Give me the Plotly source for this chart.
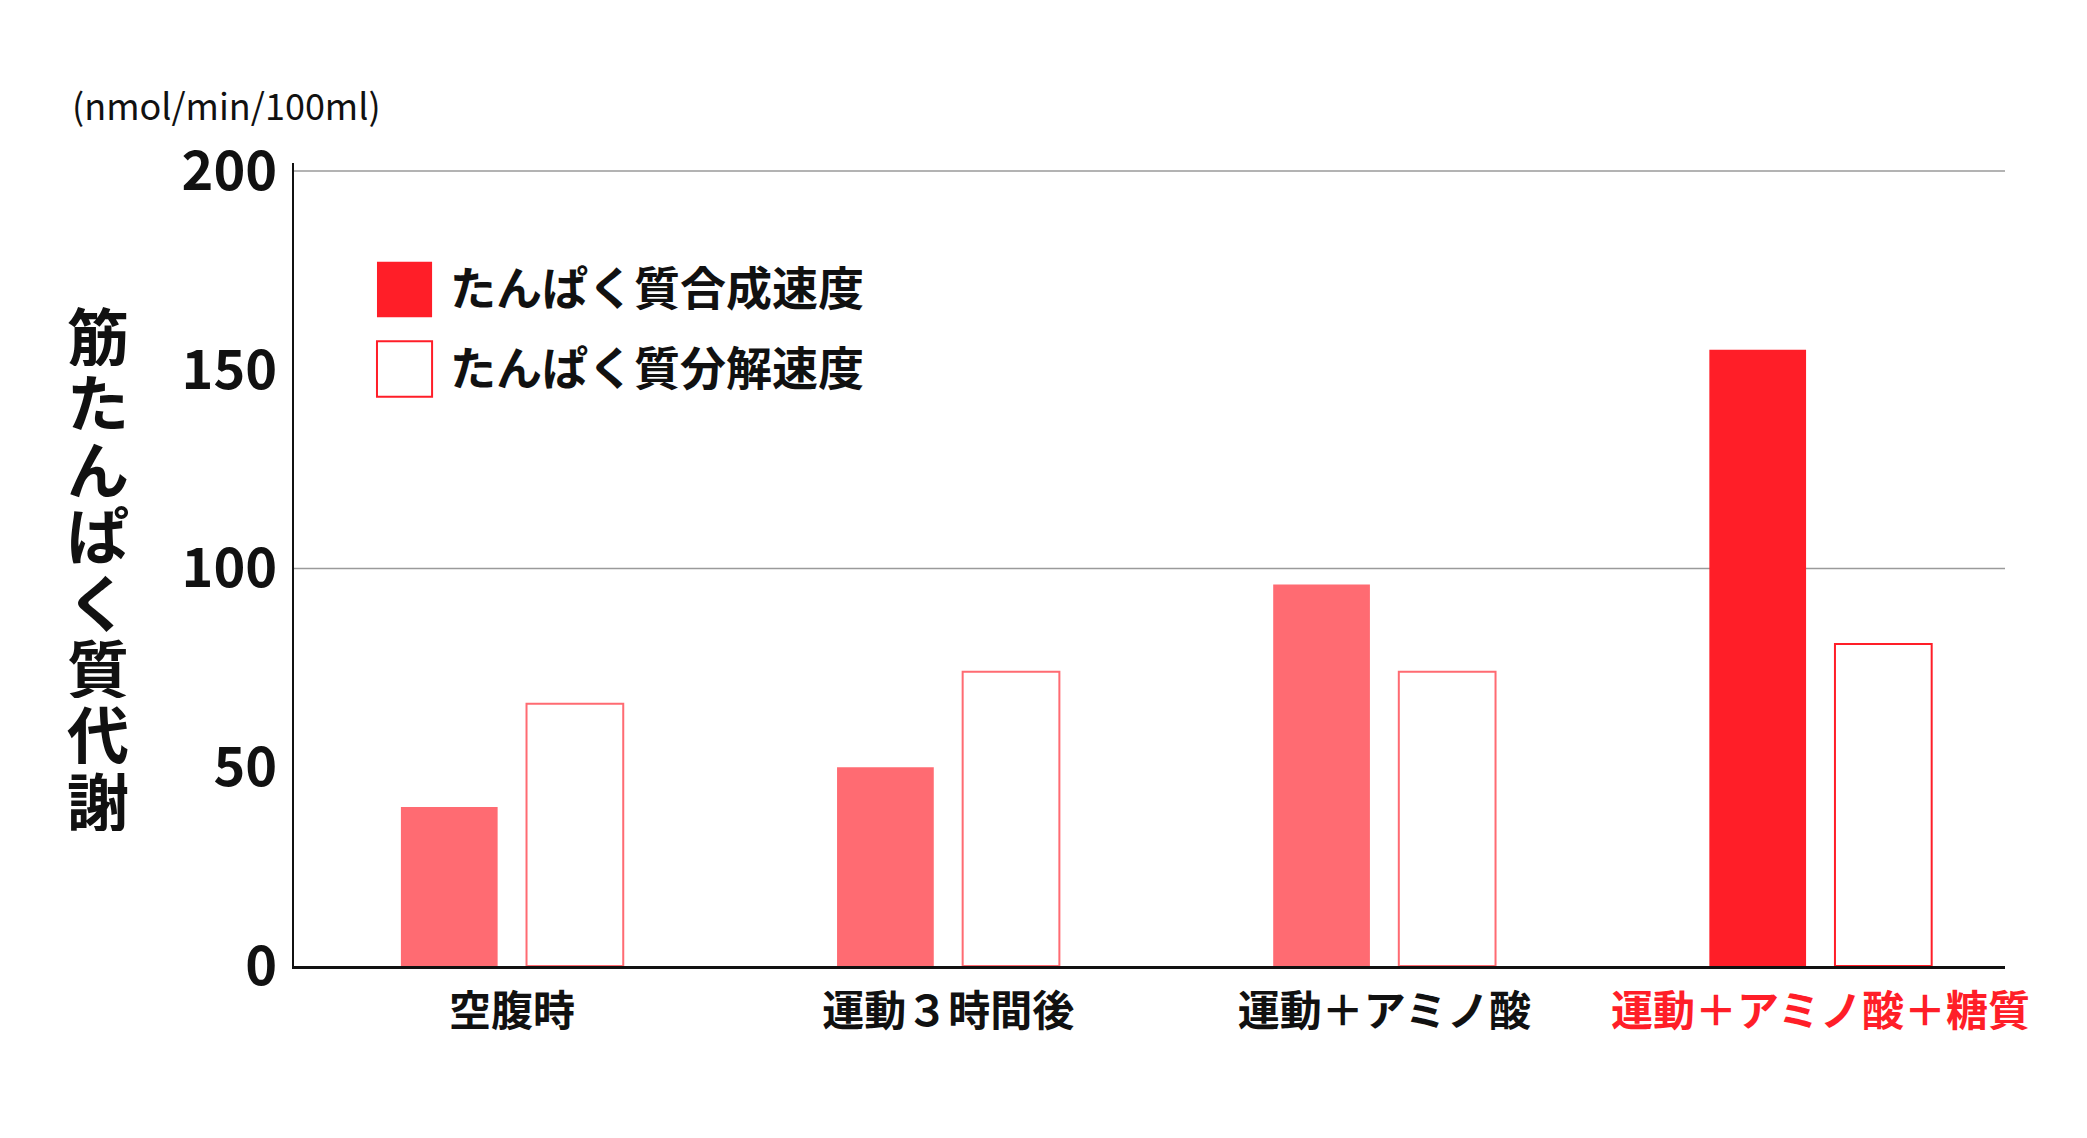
import plotly.graph_objects as go

# ---- data ----
categories = ["空腹時", "運動３時間後", "運動＋アミノ酸", "運動＋アミノ酸＋糖質"]
synthesis = [40, 50, 96, 155]
breakdown = [66, 74, 74, 81]
series_names = ["たんぱく質合成速度", "たんぱく質分解速度"]
y_ticks = [0, 50, 100, 150, 200]
grid_values = [100, 200]
y_title = "筋たんぱく質代謝"
unit_label = "(nmol/min/100ml)"

# ---- style ----
PINK = "#FF6B72"
RED = "#FF1E28"
synth_colors = [PINK, PINK, PINK, RED]
break_line_colors = [PINK, PINK, PINK, RED]
label_colors = ["#111111", "#111111", "#111111", RED]
FONT = "Noto Sans CJK JP"

x_idx = list(range(len(categories)))

fig = go.Figure()
fig.add_trace(go.Bar(
    x=x_idx, y=synthesis, name=series_names[0],
    marker=dict(color=synth_colors, line=dict(width=0)),
    showlegend=False,
))
fig.add_trace(go.Bar(
    x=x_idx, y=breakdown, name=series_names[1],
    marker=dict(color="white", line=dict(color=break_line_colors, width=2)),
    showlegend=False,
))

ticktext = [f'<span style="color:{c}">{t}</span>' for t, c in zip(categories, label_colors)]

fig.update_layout(
    width=2087, height=1138,
    margin=dict(l=294, r=82, t=163, b=172),
    paper_bgcolor="white", plot_bgcolor="white",
    barmode="group", bargap=0.424, bargroupgap=0.23,
    font=dict(family=FONT, color="#111111"),
    xaxis=dict(
        range=[-0.5, 3.423], tickvals=x_idx, ticktext=ticktext,
        showgrid=False, zeroline=False,
        showline=True, linecolor="#111111", linewidth=3,
        ticks="", ticklabelstandoff=7,
        tickfont=dict(family=FONT, size=42, weight="bold", color="#111111"),
    ),
    yaxis=dict(
        range=[0, 202], tickvals=y_ticks, ticktext=[str(v) for v in y_ticks],
        showgrid=False, zeroline=False,
        showline=True, linecolor="#111111", linewidth=2,
        ticks="", ticklabelstandoff=4,
        tickfont=dict(family=FONT, size=54, weight="bold", color="#111111"),
    ),
)

# gridlines at 100 and 200
for gv in grid_values:
    fig.add_shape(type="line", xref="paper", yref="y", x0=0, x1=1, y0=gv, y1=gv,
                  line=dict(color="#9a9a9a", width=1.5), layer="below")

# custom legend
fig.add_shape(type="rect", xref="paper", yref="paper", x0=0.0485, x1=0.0807, y0=0.808, y1=0.877,
              fillcolor=RED, line=dict(width=0))
fig.add_shape(type="rect", xref="paper", yref="paper", x0=0.0485, x1=0.0807, y0=0.709, y1=0.778,
              fillcolor="white", line=dict(color=RED, width=2))
for name, yc in zip(series_names, [0.848, 0.748]):
    fig.add_annotation(text=name, xref="paper", yref="paper", x=0.090, y=yc,
                       xanchor="left", yanchor="middle", showarrow=False,
                       font=dict(family=FONT, size=46, weight="bold", color="#111111"))

# vertical y-axis title, one upright character per line
for i, ch in enumerate(y_title):
    fig.add_annotation(text=ch, xref="paper", yref="paper", x=-0.1146, y=0.787 - i * 0.0827,
                       xanchor="center", yanchor="middle", showarrow=False, height=64,
                       font=dict(family=FONT, size=62, weight="bold", color="#111111"))

# unit label
fig.add_annotation(text=unit_label, xref="paper", yref="paper", x=-0.131, y=1.073,
                   xanchor="left", yanchor="middle", showarrow=False,
                   font=dict(family=FONT, size=36, color="#111111"))

fig.write_html("out.html", config={"displayModeBar": False},
               post_script="document.body.style.margin='0';document.body.style.overflow='hidden';")
